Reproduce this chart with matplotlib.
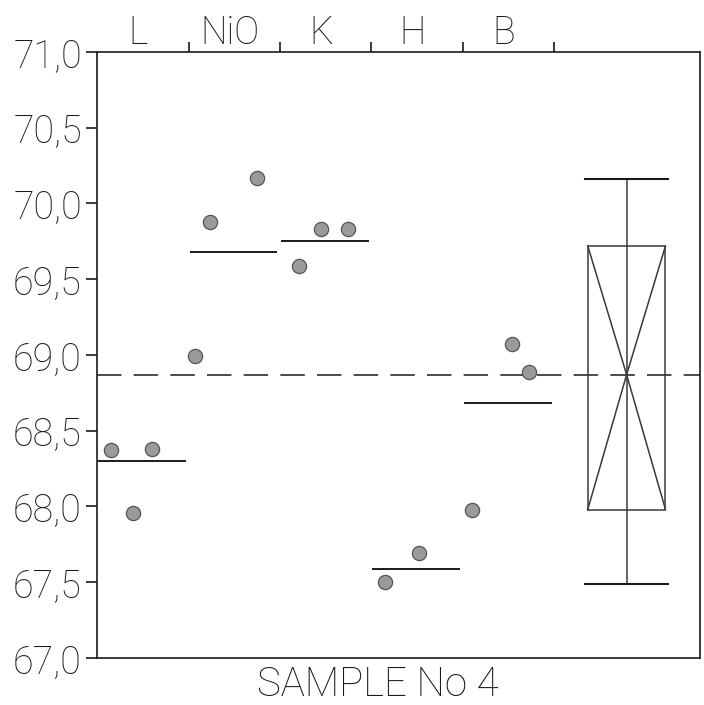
"""Sample No 4 -- individual results per laboratory, group means, grand mean and a box summary."""

import numpy as np
import matplotlib
matplotlib.use("Agg")
import matplotlib.pyplot as plt
from matplotlib.ticker import FixedLocator, FixedFormatter

plt.rcParams["font.family"] = ["Roboto", "Liberation Sans", "DejaVu Sans"]
plt.rcParams["font.weight"] = "light"

# data
groups = ["L", "NiO", "K", "H", "B"]
dot_x = [0.15, 0.39, 0.60, 1.07, 1.23, 1.75, 2.21, 2.45, 2.74, 3.15, 3.52, 4.10, 4.54, 4.72]
dot_y = [68.37, 67.96, 68.38, 68.99, 69.88, 70.17, 69.59, 69.83, 69.83, 67.50, 67.69, 67.98, 69.07, 68.89]
group_mean = [68.30, 69.68, 69.75, 67.59, 68.68]
grand_mean = 68.87
box_stats = {"whislo": 67.49, "q1": 67.98, "med": 68.87, "q3": 69.72, "whishi": 70.16}
yticks = [67.0, 67.5, 68.0, 68.5, 69.0, 69.5, 70.0, 70.5, 71.0]
ytick_labels = ["67,0", "67,5", "68,0", "68,5", "69,0", "69,5", "70,0", "70,5", "71,0"]
xlabel = "SAMPLE No 4"

INK = "#1a1a1a"
BOX_INK = "#3a3a3a"
BOX_X = 5.79
BOX_W = 0.85

fig = plt.figure(figsize=(7.04, 7.05), dpi=100)
ax = fig.add_axes([0.138, 0.0667, 0.856, 0.8596])

# grand mean, dashed across the whole frame
ax.axhline(grand_mean, color=INK, lw=1.1, dashes=(16, 8))

# group means
for i, m in enumerate(group_mean):
    ax.hlines(m, i + 0.01, i + 0.97, color=INK, lw=1.4)

# individual results
ax.scatter(dot_x, dot_y, s=105, facecolor="#9a9a9a", edgecolor="#555555",
           linewidth=0.9, zorder=3)

# box summary at the right
ax.bxp([dict(box_stats, label="")], positions=[BOX_X], widths=BOX_W,
       showfliers=False, capwidths=0.91,
       boxprops=dict(color=BOX_INK, lw=1.1),
       whiskerprops=dict(color=BOX_INK, lw=1.1),
       capprops=dict(color=INK, lw=1.5),
       medianprops=dict(lw=0))
ax.vlines(BOX_X, box_stats["q1"], box_stats["q3"], color=BOX_INK, lw=1.1)
left, right = BOX_X - BOX_W / 2, BOX_X + BOX_W / 2
ax.plot([left, BOX_X, right], [box_stats["q3"], box_stats["med"], box_stats["q1"]],
        color=BOX_INK, lw=1.1)
ax.plot([right, BOX_X, left], [box_stats["q3"], box_stats["med"], box_stats["q1"]],
        color=BOX_INK, lw=1.1)

ax.set_xlim(0, 6.59)
ax.set_ylim(67.0, 71.0)

# left axis
ax.yaxis.set_major_locator(FixedLocator(yticks))
ax.yaxis.set_major_formatter(FixedFormatter(ytick_labels))
ax.tick_params(axis="y", direction="out", length=8, width=1.2, pad=3,
               labelsize=27, colors=INK)

# top axis: group boundaries as ticks, names between them
ax.xaxis.tick_top()
ax.xaxis.set_major_locator(FixedLocator(np.arange(1, len(groups) + 1)))
ax.xaxis.set_major_formatter(FixedFormatter([""] * len(groups)))
ax.xaxis.set_minor_locator(FixedLocator(np.arange(len(groups)) + 0.45))
ax.xaxis.set_minor_formatter(FixedFormatter(groups))
ax.tick_params(axis="x", which="major", direction="out", length=7, width=1.2, colors=INK)
ax.tick_params(axis="x", which="minor", length=0, pad=0, labelsize=27, colors=INK)

for sp in ax.spines.values():
    sp.set_linewidth(1.2)
    sp.set_color(INK)

ax.text(0.466, -0.045, xlabel, transform=ax.transAxes, ha="center", va="center",
        fontsize=29, color=INK)

fig.savefig("out.png", dpi=100)
